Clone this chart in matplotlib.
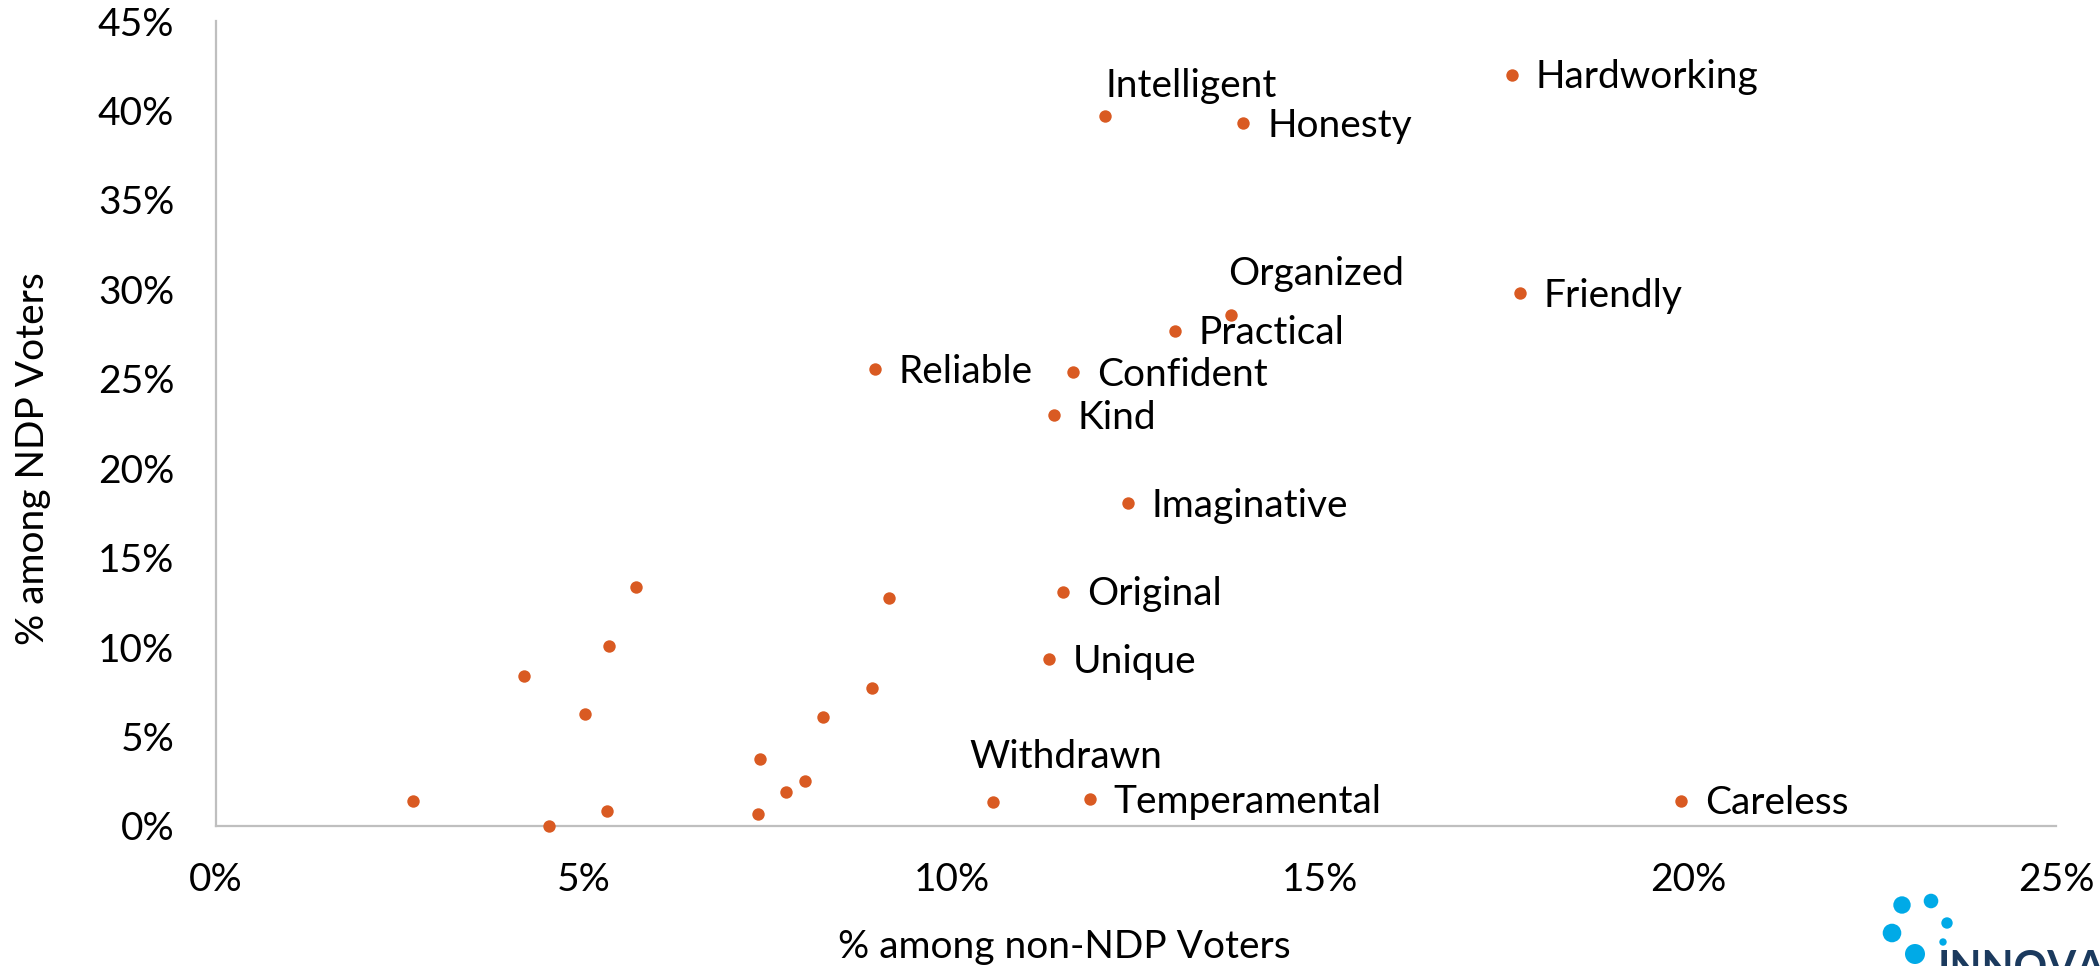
import matplotlib
matplotlib.use("Agg")
import matplotlib.pyplot as plt
from matplotlib.patches import Circle
from matplotlib.ticker import PercentFormatter
from matplotlib.transforms import IdentityTransform

# Share of each group that picked the trait (%)
labels = [
    "Hardworking", "Intelligent", "Honesty", "Organized", "Friendly",
    "Practical", "Reliable", "Confident", "Kind", "Imaginative",
    "Original", "Unique", "Withdrawn", "Temperamental", "Careless",
    "", "", "", "", "", "", "", "", "", "", "", "", "", "",
]
non_ndp = [
    17.61, 12.08, 13.96, 13.79, 17.72,
    13.03, 8.95, 11.65, 11.39, 12.39,
    11.51, 11.32, 10.56, 11.87, 19.91,
    5.71, 9.15, 5.34, 4.19, 5.01, 8.91, 8.25, 7.39, 8.00, 7.75, 2.68, 5.31, 7.37, 4.53,
]
ndp = [
    42.0, 39.67, 39.3, 28.59, 29.79,
    27.69, 25.52, 25.37, 22.98, 18.04,
    13.10, 9.33, 1.35, 1.50, 1.42,
    13.36, 12.74, 10.04, 8.40, 6.24, 7.69, 6.11, 3.74, 2.49, 1.91, 1.39, 0.83, 0.68, 0.0,
]

x_ticks = [0, 5, 10, 15, 20, 25]
y_ticks = [0, 5, 10, 15, 20, 25, 30, 35, 40, 45]

# labels moved off the default right-hand spot (offset in points)
label_offsets = {
    "Intelligent": (0, 22),
    "Organized": (-2, 29),
    "Withdrawn": (-17, 32),
}

DOT = "#D95A22"
AXIS_GREY = "#BFBFBF"
FONT = "Lato"
FS = 28

plt.rcParams["font.family"] = [FONT, "DejaVu Sans"]

fig = plt.figure(figsize=(21, 9.66), dpi=100)
ax = fig.add_axes([216 / 2100, 140 / 966, 1840 / 2100, 805 / 966])

ax.scatter(non_ndp, ndp, s=80, color=DOT, zorder=3, clip_on=False, linewidths=0)

for name, x, y in zip(labels, non_ndp, ndp):
    if not name:
        continue
    dx, dy = label_offsets.get(name, (17, -2))
    ax.annotate(name, xy=(x, y), xytext=(dx, dy), textcoords="offset points",
                ha="left", va="center", fontsize=FS, color="black")

ax.set_xlim(0, 25)
ax.set_ylim(0, 45)
ax.set_xticks(x_ticks)
ax.set_yticks(y_ticks)
ax.xaxis.set_major_formatter(PercentFormatter(decimals=0))
ax.yaxis.set_major_formatter(PercentFormatter(decimals=0))
ax.tick_params(length=0, labelsize=FS, colors="black")
ax.tick_params(axis="x", pad=26)
ax.tick_params(axis="y", pad=30)

for side in ["top", "right"]:
    ax.spines[side].set_visible(False)
for side in ["left", "bottom"]:
    ax.spines[side].set_color(AXIS_GREY)
    ax.spines[side].set_linewidth(1.6)

ax.set_xlabel("% among non-NDP Voters", fontsize=FS, labelpad=22)
ax.set_ylabel("% among NDP Voters", fontsize=FS, labelpad=34)
# the axis titles sit a little off-centre in the original
ax.xaxis.label.set_x(0.461)
ax.yaxis.label.set_y(0.456)

# partial company logo in the bottom right corner
logo_dots = [
    (1902, 905, 8.7), (1931, 901, 7.3), (1947, 923, 5.7),
    (1892, 933, 9.3), (1943, 942, 3.7), (1915, 954, 10.0),
]
for cx, cy, r in logo_dots:
    fig.add_artist(Circle((cx, 966 - cy), r, transform=IdentityTransform(),
                          color="#00AAE7", lw=0))
fig.text(1938 / 2100, 1 - 950 / 966, "INNOVATIVE", fontsize=30, fontweight="bold",
         color="#1B3A5E", ha="left", va="top")

fig.savefig("out.png", dpi=100)
